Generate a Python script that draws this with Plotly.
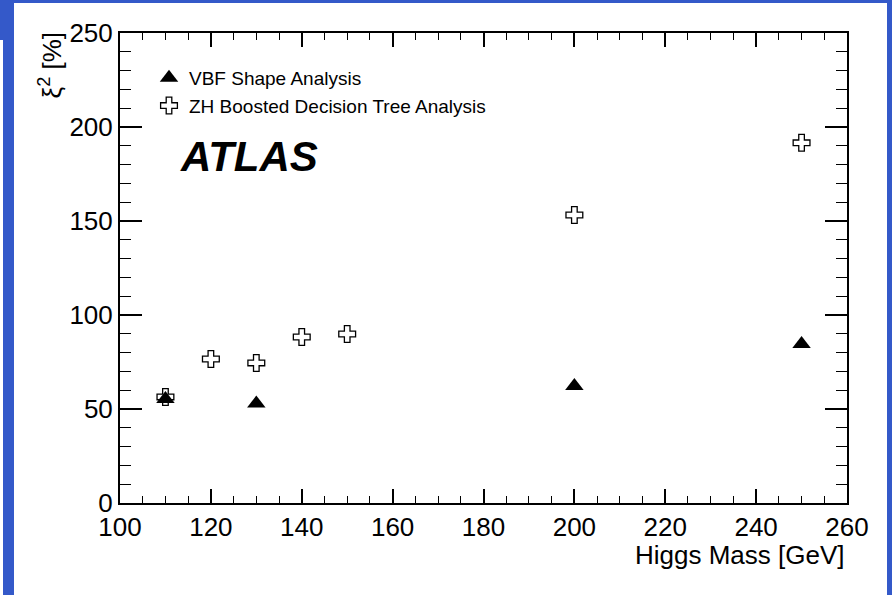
import plotly.graph_objects as go

# ---- data ----
vbf_mass = [110, 130, 200, 250]
vbf_xi2 = [55.3, 52.9, 62.2, 84.6]

zh_mass = [110, 120, 130, 140, 150, 200, 250]
zh_xi2 = [56.4, 76.6, 74.5, 88.3, 89.9, 153.2, 191.6]

x_ticks = [100, 120, 140, 160, 180, 200, 220, 240, 260]
y_ticks = [0, 50, 100, 150, 200, 250]

W, H = 892, 595
ML, MR, MT, MB = 120, 45, 33, 92
PW, PH = W - ML - MR, H - MT - MB

def px(x):
    return (x - ML) / PW

def py(y):
    return (H - MB - y) / PH

FONT = "Liberation Sans, Arial, Helvetica, sans-serif"
BLUE = "#3459c9"

fig = go.Figure()
fig.add_trace(go.Scatter(
    x=vbf_mass, y=vbf_xi2, mode="markers", name="VBF Shape Analysis",
    legendgroup="a",
    marker=dict(symbol="triangle-up", size=16, color="black"),
))
fig.add_trace(go.Scatter(
    x=zh_mass, y=zh_xi2, mode="markers", name="ZH Boosted Decision Tree Analysis",
    legendgroup="b",
    marker=dict(symbol="cross-open", size=14, color="black", line=dict(width=1.3, color="black")),
))

axis_common = dict(
    showgrid=False, zeroline=False, showline=True, linecolor="black", linewidth=2,
    mirror="ticks", ticks="inside", tickcolor="black", tickwidth=1.5,
    tickfont=dict(family=FONT, size=26, color="black"),
)

fig.update_xaxes(
    range=[100, 260], tickvals=x_ticks, ticklen=14,
    minor=dict(dtick=5, ticks="inside", ticklen=7, tickcolor="black", tickwidth=1.2),
    **axis_common,
)
fig.update_yaxes(
    range=[0, 250], tickvals=y_ticks, ticklen=22,
    minor=dict(dtick=10, ticks="inside", ticklen=11, tickcolor="black", tickwidth=1.2),
    **axis_common,
)

annotations = [
    dict(text="Higgs Mass [GeV]", xref="paper", yref="paper", x=1.0, y=py(555),
         xanchor="right", yanchor="middle", showarrow=False,
         font=dict(family=FONT, size=26, color="black")),
    dict(text="ξ<sup>2</sup> [%]", xref="paper", yref="paper", x=px(51), y=py(30),
         xanchor="center", yanchor="top", textangle=-90, showarrow=False,
         font=dict(family=FONT, size=26, color="black")),
    dict(text="<b><i>ATLAS</i></b>", xref="paper", yref="paper", x=px(178), y=py(156),
         xanchor="left", yanchor="middle", showarrow=False,
         font=dict(family=FONT, size=42, color="black")),
]

shapes = [
    dict(type="rect", xref="paper", yref="paper", x0=px(0), x1=px(W), y0=py(0), y1=py(3),
         fillcolor=BLUE, line=dict(width=0), layer="below"),
    dict(type="rect", xref="paper", yref="paper", x0=px(0), x1=px(14), y0=py(0), y1=py(40),
         fillcolor=BLUE, line=dict(width=0), layer="below"),
    dict(type="rect", xref="paper", yref="paper", x0=px(3), x1=px(14), y0=py(40), y1=py(H),
         fillcolor=BLUE, line=dict(width=0), layer="below"),
    dict(type="rect", xref="paper", yref="paper", x0=px(887), x1=px(W), y0=py(0), y1=py(H),
         fillcolor=BLUE, line=dict(width=0), layer="below"),
]

fig.update_layout(
    width=W, height=H,
    margin=dict(l=ML, r=MR, t=MT, b=MB, pad=0),
    paper_bgcolor="white", plot_bgcolor="white",
    showlegend=True,
    legend=dict(
        x=px(149), y=py(59), xanchor="left", yanchor="top",
        font=dict(family=FONT, size=19, color="black"),
        bgcolor="rgba(0,0,0,0)", itemwidth=30, traceorder="grouped",
        tracegroupgap=0,
    ),
    annotations=annotations,
    shapes=shapes,
)

fig.write_html("out.html")
